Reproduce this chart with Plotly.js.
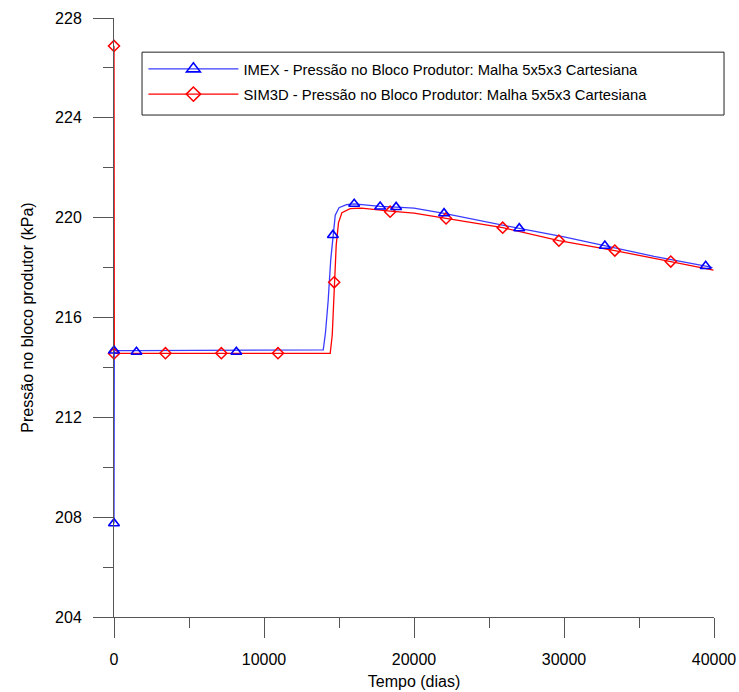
<!DOCTYPE html>
<html>
<head>
<meta charset="utf-8">
<script src="https://cdn.plot.ly/plotly-3.0.1.min.js"></script>
<style>html,body{margin:0;padding:0;background:#fff;}#chart{width:739px;height:692px;}</style>
</head>
<body>
<div id="chart"></div>
<script>
// IMEX line (days, kPa)
const imexLineX = [0, 20, 1500, 5000, 8150, 12000, 13950, 14100, 14281, 14447, 14594, 14750, 15000, 15500, 16012, 17743, 18808, 20000, 22004, 24000, 27018, 30000, 32723, 36000, 39447, 39900];
const imexLineY = [207.75, 214.67, 214.67, 214.67, 214.67, 214.67, 214.7, 215.4, 216.7, 218.3, 219.3, 220.1, 220.4, 220.52, 220.55, 220.45, 220.42, 220.38, 220.17, 219.92, 219.57, 219.23, 218.87, 218.45, 218.06, 218.0];
// IMEX markers
const imexMarkX = [0, 0, 1498, 8156, 14594, 16012, 17743, 18808, 22004, 27018, 32723, 39447];
const imexMarkY = [207.75, 214.67, 214.62, 214.62, 219.3, 220.55, 220.44, 220.42, 220.17, 219.57, 218.87, 218.06];
// SIM3D line
const simLineX = [0, 20, 3429, 7157, 10932, 14414, 14550, 14681, 14814, 14967, 15193, 15746, 16500, 18409, 20000, 22138, 25912, 29660, 33389, 37118, 39966];
const simLineY = [226.88, 214.56, 214.56, 214.56, 214.56, 214.56, 215.3, 217.41, 218.9, 219.8, 220.2, 220.36, 220.38, 220.26, 220.18, 219.97, 219.6, 219.08, 218.68, 218.24, 217.9];
// SIM3D markers
const simMarkX = [0, 0, 3429, 7157, 10932, 14681, 18409, 22138, 25912, 29660, 33389, 37118];
const simMarkY = [226.88, 214.56, 214.57, 214.57, 214.57, 217.41, 220.24, 219.97, 219.6, 219.08, 218.68, 218.24];

const imexName = 'IMEX - Pressão no Bloco Produtor: Malha 5x5x3 Cartesiana';
const simName = 'SIM3D - Pressão no Bloco Produtor: Malha 5x5x3 Cartesiana';
const xTitle = 'Tempo (dias)';
const yTitle = 'Pressão no bloco produtor (kPa)';

const blueLine = '#3b3bff';
const blueMark = '#0000ff';
const red = '#ff0000';

const traces = [
  {x: simLineX, y: simLineY, mode: 'lines', line: {color: red, width: 1.3}, showlegend: false, hoverinfo: 'skip', cliponaxis: false},
  {x: imexLineX, y: imexLineY, mode: 'lines', line: {color: blueLine, width: 1.3}, showlegend: false, hoverinfo: 'skip', cliponaxis: false},
  {x: simMarkX, y: simMarkY, mode: 'markers', marker: {symbol: 'diamond-open', size: 8.5, color: red, line: {width: 1.5, color: red}}, showlegend: false, cliponaxis: false},
  {x: imexMarkX, y: imexMarkY, mode: 'markers', marker: {symbol: 'triangle-up-open', size: 9.5, color: blueMark, line: {width: 1.6, color: blueMark}}, showlegend: false, cliponaxis: false},
  {x: [null], y: [null], mode: 'lines+markers', name: imexName, legendgroup: 'a', line: {color: blueLine, width: 1.3}, marker: {symbol: 'triangle-up-open', size: 12, color: blueMark, line: {width: 1.6, color: blueMark}}},
  {x: [null], y: [null], mode: 'lines+markers', name: simName, legendgroup: 'b', line: {color: red, width: 1.3}, marker: {symbol: 'diamond-open', size: 11, color: red, line: {width: 1.5, color: red}}}
];

const axisColor = '#555';
const layout = {
  width: 739, height: 692,
  margin: {l: 114, r: 25, t: 18, b: 75},
  paper_bgcolor: '#fff', plot_bgcolor: '#fff',
  font: {family: 'Liberation Sans, Arial, sans-serif', color: '#000', size: 16},
  showlegend: true,
  xaxis: {
    range: [0, 40000], tick0: 0, dtick: 10000, tickformat: 'd', showgrid: false, zeroline: false,
    showline: true, linecolor: axisColor, linewidth: 1,
    ticks: 'outside', ticklen: 20, tickwidth: 1, tickcolor: axisColor,
    ticklabelstandoff: 8,
    tickfont: {size: 16},
    minor: {ticks: 'outside', dtick: 5000, ticklen: 10, tickwidth: 1, tickcolor: axisColor, showgrid: false},
    title: {text: xTitle, font: {size: 16}, standoff: 8}
  },
  yaxis: {
    range: [204, 228], tick0: 204, dtick: 4, showgrid: false, zeroline: false,
    showline: true, linecolor: axisColor, linewidth: 1,
    ticks: 'outside', ticklen: 20, tickwidth: 1, tickcolor: axisColor,
    ticklabelstandoff: 8,
    tickfont: {size: 16},
    minor: {ticks: 'outside', dtick: 2, ticklen: 10, tickwidth: 1, tickcolor: axisColor, showgrid: false},
    title: {text: yTitle, font: {size: 16}, standoff: 17}
  },
  legend: {
    x: 0.049, y: 0.942, xanchor: 'left', yanchor: 'top',
    bgcolor: 'rgba(0,0,0,0)', borderwidth: 0,
    font: {size: 14.8}, itemwidth: 90, tracegroupgap: 3
  },
  shapes: [
    {type: 'rect', xref: 'paper', yref: 'paper', x0: 0.0467, x1: 1.0167, y0: 0.838, y1: 0.943,
     line: {color: '#222', width: 1}, fillcolor: 'rgba(0,0,0,0)', layer: 'above'}
  ]
};

Plotly.newPlot('chart', traces, layout, {staticPlot: true});
</script>
</body>
</html>
